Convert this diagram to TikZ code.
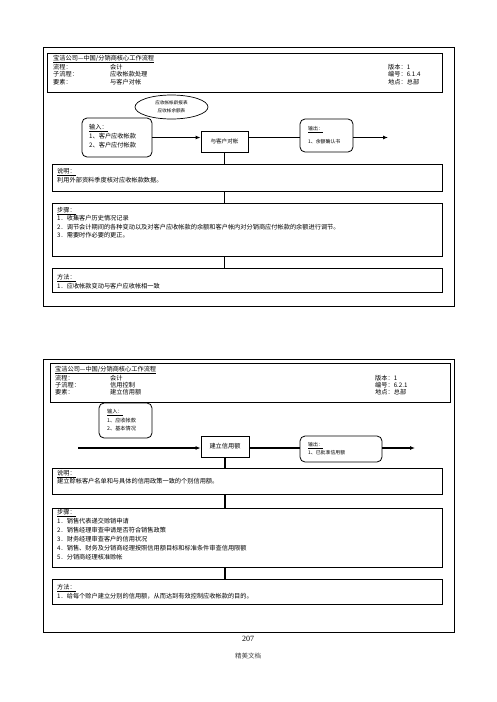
\documentclass[tikz,border=0pt]{standalone}
\usepackage{fontspec}
\setmainfont{Liberation Serif}
\newfontfamily\cjk{Noto Sans CJK SC}
\usetikzlibrary{arrows.meta,shapes.geometric}
\newcommand{\fs}[2]{\fontsize{#1}{#2}\selectfont}
\begin{document}
\begin{tikzpicture}[x=1pt,y=-1pt,
  box/.style={draw,line width=0.8pt,inner sep=0pt},
  rbox/.style={box,rounded corners=5pt},
  oval/.style={draw,line width=0.7pt,ellipse,inner sep=0pt,align=center,font=\cjk\fs{4.6}{8}},
  txt/.style={font=\cjk\fs{6.2}{9},inner sep=0pt,anchor=west},
  blk/.style={txt,anchor=north west,align=left},
  conn/.style={line width=1.5pt},
  flow/.style={conn,-{Latex[length=5pt,width=4pt]}}]
\useasboundingbox (0,0) rectangle (496,702);

% first sheet
\draw[line width=0.8pt] (43,47) rectangle (454,306);
\node[box,minimum width=395pt,minimum height=39pt] (head1) at (244.5,72.5) {};
\node[txt] (h1t) at (53,59) {\underline{宝洁公司—中国/分销商核心工作流程}};
\foreach \a/\b/\c [count=\i] in {流程：/会计/版本：1,子流程：/应收帐款处理/编号：6.1.4,要素：/与客户对帐/地点：总部} {
  \node[txt] (h1a\i) at (53,59.5+7.5*\i) {\a};
  \node[txt] (h1b\i) at (110,59.5+7.5*\i) {\b};
  \node[txt] (h1c\i) at (388,59.5+7.5*\i) {\c};
}
\node[oval,minimum width=73pt,minimum height=24pt] (rep1) at (171.5,107) {应收帐帐龄报表\\应收帐余额表};
\node[rbox,minimum width=70pt,minimum height=39pt] (in1) at (117,137.5) {};
\node[blk] (in1t) at (89,124) {\underline{输入：}\\1、客户应收帐款\\2、客户应付帐款};
\node[box,minimum width=47pt,minimum height=21pt,font=\cjk\fs{5.6}{7}] (act1) at (224.5,141.5) {与客户对帐};
\node[rbox,minimum width=53pt,minimum height=33pt] (out1) at (326.5,135.5) {};
\node[blk,font=\cjk\fs{4.9}{13}] (out1t) at (308,126.5) {\underline{输出：}\\1、余额确认书};
\coordinate (end1) at (388,137.5);

\node[box,minimum width=390pt,minimum height=27pt] (desc1) at (247,177.5) {};
\node[blk] (desc1t) at (57,167.8) {\underline{说明：}\\利用外部资料季度核对应收帐款数据。};
\node[box,minimum width=390pt,minimum height=53pt] (step1) at (247,229.5) {};
\node[blk,font=\cjk\fs{6.2}{8.4}] (step1t) at (57,207) {\underline{步骤：}\\1．收集客户历史情况记录\\2．调节会计期间的各种变动以及对客户应收帐款的余额和客户帐内对分销商应付帐款的余额进行调节。\\3．需要时作必要的更正。};
\node[box,minimum width=390pt,minimum height=24pt] (meth1) at (247,280) {};
\node[blk,font=\cjk\fs{6.2}{7}] (meth1t) at (57,274) {\underline{方法：}\\1．应收帐款变动与客户应收帐相一致};

\draw[flow] (in1.east) -- (in1.east -| act1.west);
\draw[conn] (act1.east |- in1.east) -- (out1.west |- in1.east);
\draw[flow] (out1.east |- in1.east) -- (end1);
\draw[conn] (act1.south) -- (act1.south |- desc1.north);
\draw[conn] (act1.south |- desc1.south) -- (act1.south |- step1.north);
\draw[conn] (act1.south |- step1.south) -- (act1.south |- meth1.north);

% second sheet
\draw[line width=0.8pt] (43,359) rectangle (454,632);
\node[box,minimum width=400pt,minimum height=39pt] (head2) at (250,382.5) {};
\node[txt] (h2t) at (55,370) {\underline{宝洁公司—中国/分销商核心工作流程}};
\foreach \a/\b/\c [count=\i] in {流程：/会计/版本：1,子流程：/信用控制/编号：6.2.1,要素：/建立信用额/地点：总部} {
  \node[txt] (h2a\i) at (55,371+7.2*\i) {\a};
  \node[txt] (h2b\i) at (110,371+7.2*\i) {\b};
  \node[txt] (h2c\i) at (375,371+7.2*\i) {\c};
}
\node[rbox,minimum width=53pt,minimum height=35pt] (in2) at (125.5,420.5) {};
\node[blk,font=\cjk\fs{5.2}{8.6}] (in2t) at (107,409) {\underline{输入：}\\1、应收帐款\\2、基本情况};
\coordinate (start2) at (78,448);
\node[box,minimum width=48pt,minimum height=21pt,font=\cjk\fs{6.2}{8}] (act2) at (225,446.5) {建立信用额};
\node[rbox,minimum width=82pt,minimum height=26pt] (out2) at (341,449) {};
\node[blk,font=\cjk\fs{4.9}{8}] (out2t) at (308,442) {\underline{输出：}\\1、已批准信用额};
\coordinate (end2) at (415,448);

\node[box,minimum width=390pt,minimum height=26pt] (desc2) at (247,481) {};
\node[blk,font=\cjk\fs{6.2}{8}] (desc2t) at (57,470) {\underline{说明：}\\建立赊帐客户名单和与具体的信用政策一致的个别信用额。};
\node[box,minimum width=390pt,minimum height=59pt] (step2) at (247,537.5) {};
\node[blk] (step2t) at (57,509) {\underline{步骤：}\\1．销售代表递交赊销申请\\2．销售经理审查申请是否符合销售政策\\3．财务经理审查客户的信用状况\\4．销售、财务及分销商经理按照信用额目标和标准条件审查信用限额\\5．分销商经理核准赊帐};
\node[box,minimum width=390pt,minimum height=25pt] (meth2) at (247,591.5) {};
\node[blk] (meth2t) at (57,584) {\underline{方法：}\\1．给每个赊户建立分别的信用额，从而达到有效控制应收帐款的目的。};

\draw[flow] (start2) -- (start2 -| act2.west);
\draw[conn] (act2.east |- start2) -- (out2.west |- start2);
\draw[flow] (out2.east |- start2) -- (end2);
\draw[conn] (act2.south) -- (act2.south |- desc2.north);
\draw[conn] (act2.south |- desc2.south) -- (act2.south |- step2.north);
\draw[conn] (act2.south |- step2.south) -- (act2.south |- meth2.north);

\node[font=\fs{8}{10}] (page) at (248,639) {207};
\node[font=\cjk\fs{6.5}{8},text=black!75] (note) at (248,656) {精美文档};
\end{tikzpicture}
\end{document}
